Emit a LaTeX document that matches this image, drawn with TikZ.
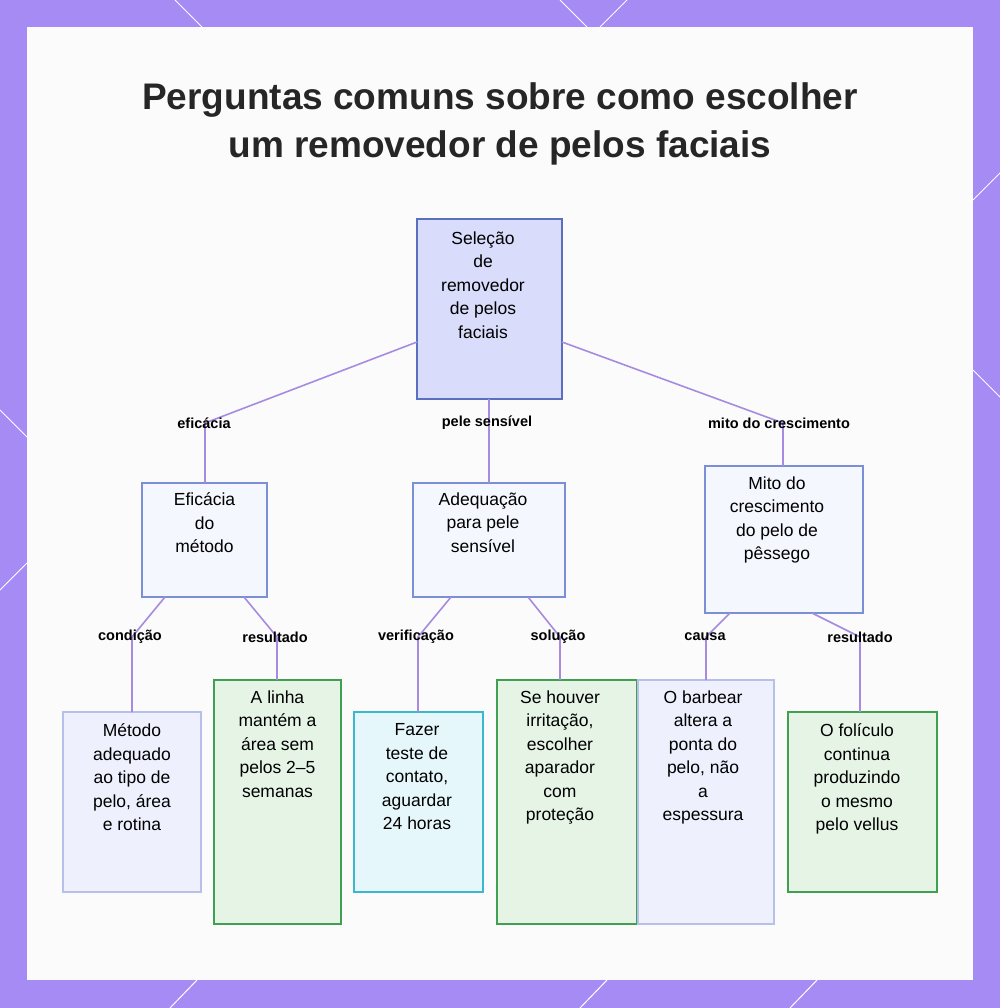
\documentclass[tikz,border=0pt]{standalone}
\usepackage{fontspec}
\setmainfont{Liberation Sans}
\begin{document}
\begin{tikzpicture}[x=1pt,y=-1pt,
 box/.style={draw,line width=1.3pt,font=\fontsize{17.5}{23.5}\selectfont,align=center,anchor=north,inner sep=0pt},
 lbl/.style={font=\bfseries\fontsize{14.5}{16}\selectfont,inner sep=1pt},
 ed/.style={draw=edge,line width=1.6pt}]
\definecolor{frame}{HTML}{A68BF5}
\definecolor{edge}{HTML}{A78BE0}
\definecolor{rootf}{HTML}{D9DCFB}\definecolor{rootd}{HTML}{5B6FC0}
\definecolor{midf}{HTML}{F5F7FE}\definecolor{midd}{HTML}{7A8FD6}
\definecolor{lavf}{HTML}{EEF0FD}\definecolor{lavd}{HTML}{B7C0E8}
\definecolor{grf}{HTML}{E6F4E6}\definecolor{grd}{HTML}{3FA04F}
\definecolor{cyf}{HTML}{E6F7FB}\definecolor{cyd}{HTML}{3BB8CC}
\useasboundingbox (0,0) rectangle (1000,1008);
\fill[frame] (0,0) rectangle (1000,1008);
\fill[white!97!gray] (27,27) rectangle (973,980);
\foreach \a/\b/\c/\d in {0/410/27/437, 0/590/27/563, 973/200/1000/173, 973/370/1000/397, 560/0/587/27, 600/27/627/0, 170/1008/197/980, 580/1008/607/980, 790/1008/817/980, 175/0/202/27}
 \draw[white,line width=1pt] (\a,\b)--(\c,\d);
\node[font=\bfseries\fontsize{37}{48}\selectfont,align=center,text=black!85] (title) at (500,124) {Perguntas comuns sobre como escolher\\um removedor de pelos faciais};
% root
\draw[fill=rootf,draw=rootd,line width=1.3pt] (417,219) rectangle (562,399);
\node[box,draw=none] (root) at (483,231) {Seleção\\de\\removedor\\de pelos\\faciais};
\coordinate (rootL) at (417,342); \coordinate (rootB) at (489,399); \coordinate (rootR) at (562,342);
% mid
\draw[fill=midf,draw=midd,line width=1.3pt] (142,483) rectangle (267,597);
\node[box,draw=none] (m1) at (204.5,492) {Eficácia\\do\\método};
\draw[fill=midf,draw=midd,line width=1.3pt] (413,483) rectangle (565,597);
\node[box,draw=none] (m2) at (483,492) {Adequação\\para pele\\sensível};
\draw[fill=midf,draw=midd,line width=1.3pt] (705,466) rectangle (863,613);
\node[box,draw=none] (m3) at (777,476) {Mito do\\crescimento\\do pelo de\\pêssego};
% leaves
\draw[fill=lavf,draw=lavd,line width=1.3pt] (63,712) rectangle (201,892);
\node[box,draw=none] (l1) at (132,723) {Método\\adequado\\ao tipo de\\pelo, área\\e rotina};
\draw[fill=grf,draw=grd,line width=1.3pt] (214,680) rectangle (341,924);
\node[box,draw=none] (l2) at (277.5,690) {A linha\\mantém a\\área sem\\pelos 2–5\\semanas};
\draw[fill=cyf,draw=cyd,line width=1.3pt] (354,712) rectangle (483,892);
\node[box,draw=none] (l3) at (417,723) {Fazer\\teste de\\contato,\\aguardar\\24 horas};
\draw[fill=grf,draw=grd,line width=1.3pt] (497,680) rectangle (637,924);
\node[box,draw=none] (l4) at (560,690) {Se houver\\irritação,\\escolher\\aparador\\com\\proteção};
\draw[fill=lavf,draw=lavd,line width=1.3pt] (638,680) rectangle (774,924);
\node[box,draw=none] (l5) at (703,690) {O barbear\\altera a\\ponta do\\pelo, não\\a\\espessura};
\draw[fill=grf,draw=grd,line width=1.3pt] (788,712) rectangle (937,892);
\node[box,draw=none] (l6) at (857,723) {O folículo\\continua\\produzindo\\o mesmo\\pelo vellus};
% edges
\coordinate (e1) at (205,423); \coordinate (e2) at (489,423); \coordinate (e3) at (783,423);
\draw[ed] (rootL)--(e1)--(205,483); \draw[ed] (rootB)--(489,483); \draw[ed] (rootR)--(e3)--(783,466);
\node[lbl] at (204,423) {eficácia};
\node[lbl] at (487,423) {pele sensível};
\node[lbl] at (779,423) {mito do crescimento};
\draw[ed] (165,597)--(132,637)--(132,712); \node[lbl] at (130,637) {condição};
\draw[ed] (244,597)--(277,637)--(277,680); \node[lbl] at (275,637) {resultado};
\draw[ed] (451,597)--(418,637)--(418,712); \node[lbl] at (416,637) {verificação};
\draw[ed] (528,597)--(560,637)--(560,680); \node[lbl] at (558,637) {solução};
\draw[ed] (730,613)--(706,637)--(706,680); \node[lbl] at (705,637) {causa};
\draw[ed] (812,613)--(860,637)--(860,712); \node[lbl] at (860,637) {resultado};
\end{tikzpicture}
\end{document}
